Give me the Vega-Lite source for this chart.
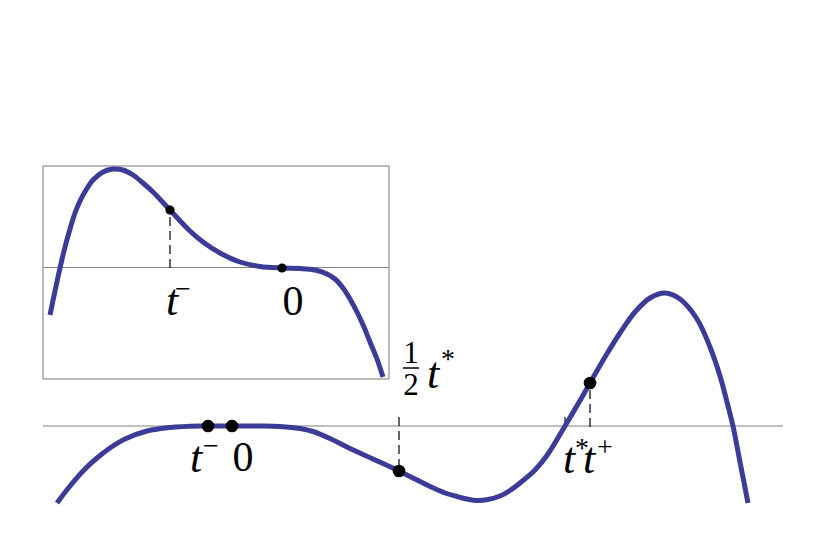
{
  "$schema": "https://vega.github.io/schema/vega-lite/v6.json",
  "width": 828,
  "height": 546,
  "padding": 0,
  "autosize": {"type": "fit", "contains": "padding"},
  "background": "white",
  "config": {"view": {"stroke": null}},
  "datasets": {
    "frame": [{"x": 43, "x2": 389, "y": 167, "y2": 380}],
    "axes": [
      {"x": 43, "x2": 783, "y": 120},
      {"x": 43, "x2": 389, "y": 278.5}
    ],
    "fracbar": [{"x": 403, "x2": 419, "y": 178}],
    "main": [
      {"x": 57, "y": 43}, {"x": 70, "y": 60}, {"x": 85, "y": 77}, {"x": 97, "y": 88},
      {"x": 110, "y": 98}, {"x": 125, "y": 107}, {"x": 147, "y": 115}, {"x": 170, "y": 118.5},
      {"x": 200, "y": 120}, {"x": 230, "y": 120}, {"x": 260, "y": 120}, {"x": 280, "y": 119.5},
      {"x": 300, "y": 117.5}, {"x": 313, "y": 114.5}, {"x": 330, "y": 107.5}, {"x": 347, "y": 99},
      {"x": 373, "y": 87}, {"x": 399, "y": 75}, {"x": 415, "y": 67}, {"x": 430, "y": 59.5},
      {"x": 445, "y": 53}, {"x": 457, "y": 49.5}, {"x": 467, "y": 47}, {"x": 477, "y": 45.5},
      {"x": 488, "y": 46.5}, {"x": 500, "y": 50}, {"x": 510, "y": 55.5}, {"x": 520, "y": 63},
      {"x": 535, "y": 76}, {"x": 548, "y": 92}, {"x": 565, "y": 120}, {"x": 578, "y": 142},
      {"x": 590, "y": 163}, {"x": 605, "y": 189}, {"x": 620, "y": 213}, {"x": 635, "y": 234},
      {"x": 650, "y": 248}, {"x": 665, "y": 253}, {"x": 680, "y": 247}, {"x": 697, "y": 227},
      {"x": 710, "y": 199}, {"x": 720, "y": 170}, {"x": 728, "y": 140}, {"x": 733, "y": 120},
      {"x": 740, "y": 84}, {"x": 748, "y": 43}
    ],
    "inset": [
      {"x": 50, "y": 231}, {"x": 55, "y": 255}, {"x": 60, "y": 278}, {"x": 65, "y": 299},
      {"x": 70, "y": 317}, {"x": 75, "y": 333}, {"x": 80, "y": 345}, {"x": 86, "y": 356},
      {"x": 93, "y": 366}, {"x": 103, "y": 374}, {"x": 113, "y": 377}, {"x": 123, "y": 376},
      {"x": 133, "y": 371}, {"x": 143, "y": 363}, {"x": 153, "y": 354}, {"x": 170, "y": 336},
      {"x": 190, "y": 315}, {"x": 203, "y": 304}, {"x": 220, "y": 293}, {"x": 240, "y": 284},
      {"x": 260, "y": 279.5}, {"x": 282, "y": 278}, {"x": 300, "y": 277.5}, {"x": 315, "y": 276},
      {"x": 327, "y": 272}, {"x": 335, "y": 267}, {"x": 343, "y": 258}, {"x": 350, "y": 247},
      {"x": 357, "y": 234}, {"x": 364, "y": 219}, {"x": 370, "y": 204}, {"x": 377, "y": 187},
      {"x": 383, "y": 169}
    ],
    "dashes": [
      {"x": 170, "y": 278, "y2": 336},
      {"x": 399, "y": 129, "y2": 75},
      {"x": 565, "y": 120, "y2": 129},
      {"x": 590, "y": 119, "y2": 163}
    ],
    "dotsMain": [
      {"x": 208, "y": 120}, {"x": 232, "y": 120}, {"x": 399, "y": 75}, {"x": 590, "y": 163}
    ],
    "dotsInset": [
      {"x": 170, "y": 336}, {"x": 282, "y": 278}
    ],
    "labels": [
      {"x": 196, "y": 74, "text": "t", "kind": "t"},
      {"x": 211, "y": 99, "text": "−", "kind": "sup"},
      {"x": 243, "y": 75, "text": "0", "kind": "num"},
      {"x": 172, "y": 231, "text": "t", "kind": "t"},
      {"x": 183, "y": 256, "text": "−", "kind": "sup"},
      {"x": 293, "y": 231, "text": "0", "kind": "num"},
      {"x": 411, "y": 183, "text": "1", "kind": "frac"},
      {"x": 411, "y": 151, "text": "2", "kind": "frac"},
      {"x": 433, "y": 158, "text": "t", "kind": "t"},
      {"x": 448, "y": 186, "text": "*", "kind": "sup"},
      {"x": 569, "y": 73, "text": "t", "kind": "t"},
      {"x": 582, "y": 97, "text": "*", "kind": "sup"},
      {"x": 589, "y": 73, "text": "t", "kind": "t"},
      {"x": 605, "y": 98, "text": "+", "kind": "sup"}
    ]
  },
  "encoding": {
    "x": {"field": "x", "type": "quantitative", "scale": {"domain": [0, 828], "nice": false, "zero": false}, "axis": null},
    "y": {"field": "y", "type": "quantitative", "scale": {"domain": [0, 546], "nice": false, "zero": false}, "axis": null}
  },
  "layer": [
    {
      "data": {"name": "frame"},
      "mark": {"type": "rect", "fill": "white", "stroke": "#777777", "strokeWidth": 1},
      "encoding": {"x2": {"field": "x2"}, "y2": {"field": "y2"}}
    },
    {
      "data": {"name": "axes"},
      "mark": {"type": "rule", "color": "#808080", "strokeWidth": 1.2},
      "encoding": {"x2": {"field": "x2"}}
    },
    {
      "data": {"name": "fracbar"},
      "mark": {"type": "rule", "color": "black", "strokeWidth": 1.5},
      "encoding": {"x2": {"field": "x2"}}
    },
    {
      "data": {"name": "dashes"},
      "mark": {"type": "rule", "color": "black", "strokeWidth": 1.2, "strokeDash": [9, 5]},
      "encoding": {"y2": {"field": "y2"}}
    },
    {
      "data": {"name": "main"},
      "mark": {"type": "line", "color": "#3c3c98", "strokeWidth": 5, "interpolate": "catmull-rom"},
      "encoding": {}
    },
    {
      "data": {"name": "inset"},
      "mark": {"type": "line", "color": "#3c3c98", "strokeWidth": 5, "interpolate": "catmull-rom"},
      "encoding": {}
    },
    {
      "data": {"name": "dotsMain"},
      "mark": {"type": "point", "filled": true, "color": "black", "size": 160, "opacity": 1},
      "encoding": {}
    },
    {
      "data": {"name": "dotsInset"},
      "mark": {"type": "point", "filled": true, "color": "black", "size": 85, "opacity": 1},
      "encoding": {}
    },
    {
      "data": {"name": "labels"},
      "transform": [{"filter": "datum.kind === 't'"}],
      "mark": {"type": "text", "font": "Times New Roman, Liberation Serif, serif", "fontStyle": "italic", "fontSize": 44, "baseline": "alphabetic", "align": "center", "color": "black"},
      "encoding": {"text": {"field": "text"}}
    },
    {
      "data": {"name": "labels"},
      "transform": [{"filter": "datum.kind === 'num'"}],
      "mark": {"type": "text", "font": "Times New Roman, Liberation Serif, serif", "fontSize": 42, "baseline": "alphabetic", "align": "center", "color": "black"},
      "encoding": {"text": {"field": "text"}}
    },
    {
      "data": {"name": "labels"},
      "transform": [{"filter": "datum.kind === 'frac'"}],
      "mark": {"type": "text", "font": "Times New Roman, Liberation Serif, serif", "fontSize": 31, "baseline": "alphabetic", "align": "center", "color": "black"},
      "encoding": {"text": {"field": "text"}}
    },
    {
      "data": {"name": "labels"},
      "transform": [{"filter": "datum.kind === 'sup'"}],
      "mark": {"type": "text", "font": "Times New Roman, Liberation Serif, serif", "fontSize": 28, "baseline": "middle", "align": "center", "color": "black"},
      "encoding": {"text": {"field": "text"}}
    }
  ]
}
